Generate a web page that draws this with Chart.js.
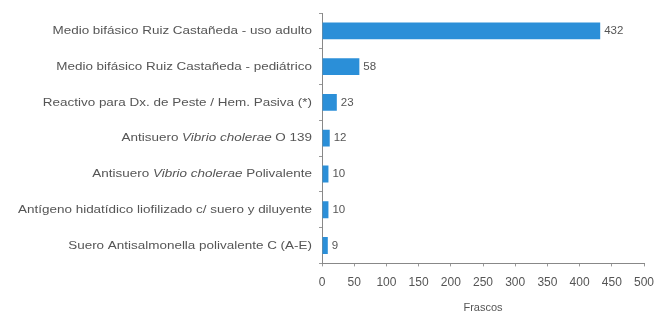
<!DOCTYPE html>
<html>
<head>
<meta charset="utf-8">
<script src="https://cdn.jsdelivr.net/npm/chart.js@4/dist/chart.umd.min.js"></script>
<style>
  html, body { margin: 0; padding: 0; background: #fff; }
  #wrap { width: 665px; height: 316px; }
</style>
</head>
<body>
<div id="wrap"><canvas id="chart"></canvas></div>
<script>
// category labels, split into pieces so the species names can be italic
const labelParts = [
    [['Medio bifásico Ruiz Castañeda - uso adulto', false]],
    [['Medio bifásico Ruiz Castañeda - pediátrico', false]],
    [['Reactivo para Dx. de Peste / Hem. Pasiva (*)', false]],
    [['Antisuero ', false], ['Vibrio cholerae', true], [' O 139', false]],
    [['Antisuero ', false], ['Vibrio cholerae', true], [' Polivalente', false]],
    [['Antígeno hidatídico liofilizado c/ suero y diluyente', false]],
    [['Suero Antisalmonella polivalente C (A-E)', false]]
];
const categories = labelParts.map(p => p.map(s => s[0]).join(''));
const frascos = [432, 58, 23, 12, 10, 10, 9];
const xTicks = [0, 50, 100, 150, 200, 250, 300, 350, 400, 450, 500];

const textColor = '#555';
const fontFamily = '"Liberation Sans", Arial, sans-serif';
const stretch = 1.17;   // the scanned text is wider than normal

// draws the category names and the value at the end of each bar
const labelPlugin = {
    id: 'labels',
    afterDraw(chart) {
        const ctx = chart.ctx;
        const yScale = chart.scales.y;
        ctx.save();
        ctx.fillStyle = textColor;
        ctx.textBaseline = 'middle';
        ctx.textAlign = 'left';

        labelParts.forEach((parts, i) => {
            const y = yScale.getPixelForValue(i);
            let total = 0;
            parts.forEach(([txt, it]) => {
                ctx.font = (it ? 'italic ' : '') + '11.5px ' + fontFamily;
                total += ctx.measureText(txt).width;
            });
            const right = yScale.right - 10;
            ctx.save();
            ctx.translate(right - total * stretch, y);
            ctx.scale(stretch, 1);
            let x = 0;
            parts.forEach(([txt, it]) => {
                ctx.font = (it ? 'italic ' : '') + '11.5px ' + fontFamily;
                ctx.fillText(txt, x, 0);
                x += ctx.measureText(txt).width;
            });
            ctx.restore();
        });

        ctx.font = '11.5px ' + fontFamily;
        chart.getDatasetMeta(0).data.forEach((bar, i) => {
            ctx.fillText(String(frascos[i]), bar.x + 4, bar.y);
        });
        ctx.restore();
    }
};

new Chart(document.getElementById('chart'), {
    type: 'bar',
    data: {
        labels: categories,
        datasets: [{
            data: frascos,
            backgroundColor: '#2b8fd8',
            borderWidth: 0,
            barPercentage: 0.47,
            categoryPercentage: 1.0
        }]
    },
    options: {
        indexAxis: 'y',
        responsive: true,
        maintainAspectRatio: false,
        animation: false,
        layout: { padding: { top: 13, right: 21, bottom: 1, left: 0 } },
        plugins: {
            legend: { display: false },
            tooltip: { enabled: false }
        },
        scales: {
            x: {
                min: 0,
                max: 500,
                afterBuildTicks(scale) {
                    scale.ticks = xTicks.map(v => ({ value: v }));
                },
                grid: { drawOnChartArea: false, drawTicks: true, tickLength: 3, color: '#999' },
                border: { color: '#888' },
                ticks: { color: textColor, font: { size: 12, family: fontFamily }, padding: 9 },
                title: {
                    display: true,
                    text: 'Frascos',
                    color: textColor,
                    font: { size: 11, family: fontFamily },
                    padding: { top: 3, bottom: 0 }
                }
            },
            y: {
                afterFit(scale) { scale.width = 322; },
                grid: { drawOnChartArea: false, drawTicks: true, tickLength: 3, offset: true, color: '#999' },
                border: { color: '#888' },
                ticks: { display: false }
            }
        }
    },
    plugins: [labelPlugin]
});
</script>
</body>
</html>
